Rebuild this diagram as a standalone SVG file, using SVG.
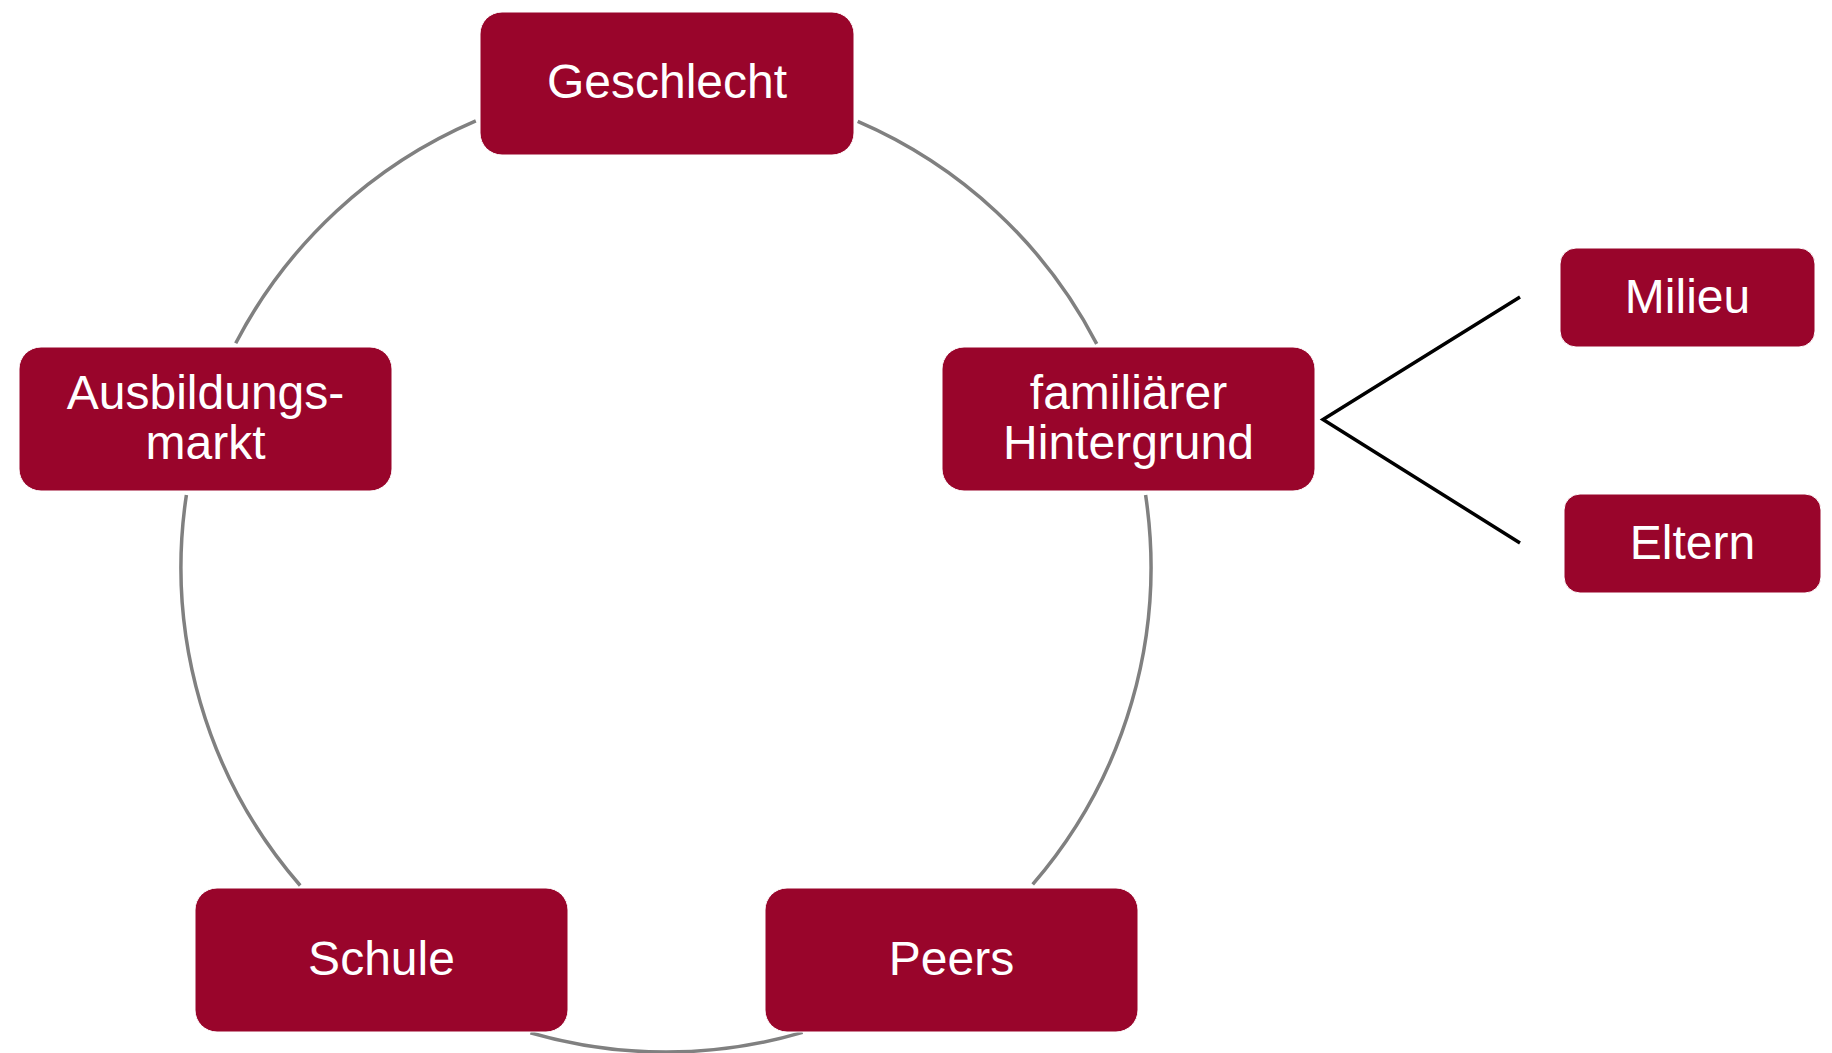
<svg xmlns="http://www.w3.org/2000/svg" width="1832" height="1053" viewBox="0 0 1832 1053">
<style>
.box{fill:#99052B;stroke:#ffffff;stroke-width:1}
.lbl{font-family:"Liberation Sans",Arial,sans-serif;font-size:48px;fill:#ffffff;text-anchor:middle}
.arc{fill:none;stroke:#808080;stroke-width:3.5}
.br{fill:none;stroke:#000000;stroke-width:3.5}
</style>
<rect width="1832" height="1053" fill="#ffffff"/>
<g id="connectors">
<path class="arc" d="M235.7,343.3 A485,485 0 0 1 475.8,120.8"/>
<path class="arc" d="M857.7,121.4 A485,485 0 0 1 1096.7,343.9"/>
<path class="arc" d="M1145.6,495.1 A485,485 0 0 1 1032.7,884.4"/>
<path class="arc" d="M802.6,1032.4 A485,485 0 0 1 530.4,1032.7"/>
<path class="arc" d="M300.2,885.5 A485,485 0 0 1 186.4,494.9"/>
<polyline class="br" points="1520,297 1323,419.5 1520,543"/>
</g>
<g id="geschlecht">
<rect class="box" x="480" y="12" width="374" height="143" rx="22"/>
<text class="lbl" x="667" y="98">Geschlecht</text>
</g>
<g id="ausbildungsmarkt">
<rect class="box" x="19" y="347" width="373" height="144" rx="22"/>
<text class="lbl" x="205.5" y="409">Ausbildungs-</text>
<text class="lbl" x="205.5" y="459">markt</text>
</g>
<g id="familiaerer-hintergrund">
<rect class="box" x="942" y="347" width="373" height="144" rx="22"/>
<text class="lbl" x="1128.5" y="409">familiärer</text>
<text class="lbl" x="1128.5" y="459">Hintergrund</text>
</g>
<g id="milieu">
<rect class="box" x="1560" y="248" width="255" height="99" rx="16"/>
<text class="lbl" x="1687.5" y="313">Milieu</text>
</g>
<g id="eltern">
<rect class="box" x="1564" y="494" width="257" height="99" rx="16"/>
<text class="lbl" x="1692.5" y="559">Eltern</text>
</g>
<g id="schule">
<rect class="box" x="195" y="888" width="373" height="144" rx="22"/>
<text class="lbl" x="381.5" y="975">Schule</text>
</g>
<g id="peers">
<rect class="box" x="765" y="888" width="373" height="144" rx="22"/>
<text class="lbl" x="951.5" y="975">Peers</text>
</g>
</svg>
